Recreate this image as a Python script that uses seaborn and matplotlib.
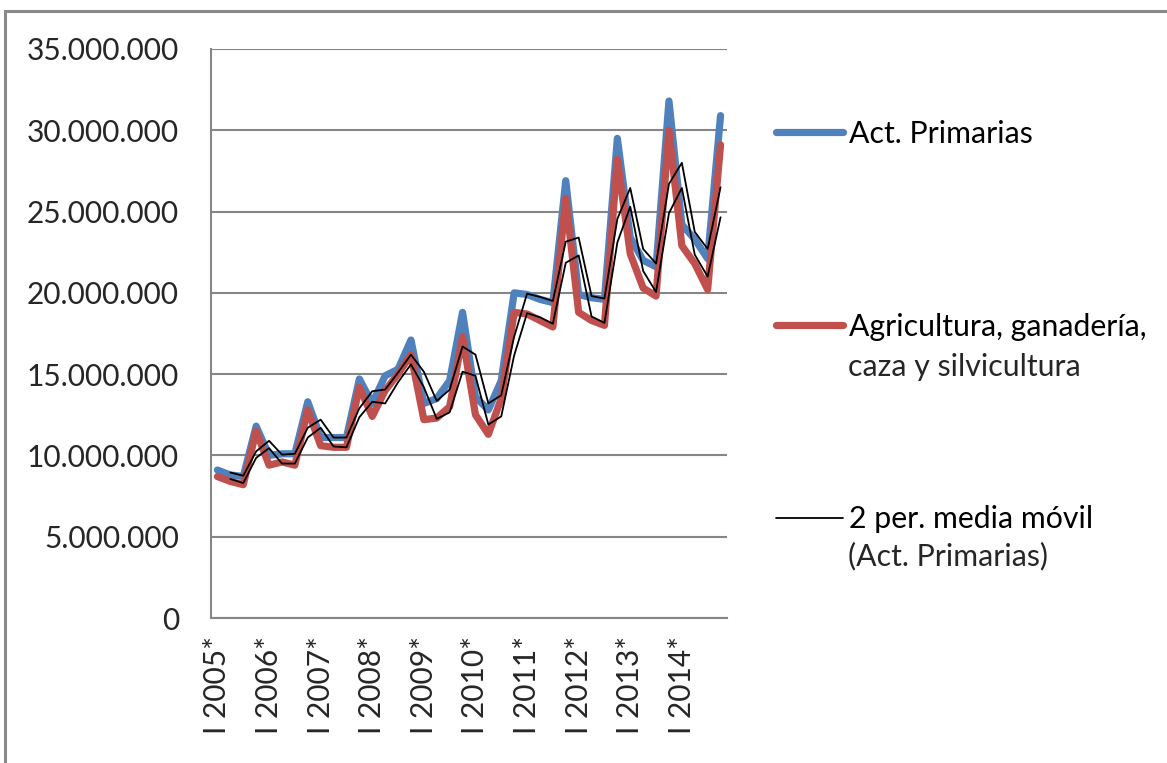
import numpy as np
import pandas as pd
import matplotlib
matplotlib.use("Agg")
import matplotlib.pyplot as plt
import matplotlib.patches as patches
from matplotlib.ticker import FuncFormatter, FixedLocator
import seaborn as sns

# Datos trimestrales 2005-2014 (en millones)
years = [2005, 2006, 2007, 2008, 2009, 2010, 2011, 2012, 2013, 2014]
quarters = ["I", "II", "III", "IV"]
act_primarias = [9.1, 8.8, 8.7, 11.8, 10.0, 10.1, 10.1, 13.3, 11.1, 11.1,
                 11.1, 14.7, 13.2, 14.9, 15.3, 17.1, 13.2, 13.5, 14.6, 18.8,
                 13.6, 12.8, 14.6, 20.0, 19.9, 19.6, 19.4, 26.9, 19.9, 19.7,
                 19.6, 29.5, 23.4, 22.0, 21.6, 31.8, 24.2, 23.3, 22.1, 30.9]
agricultura = [8.7, 8.4, 8.2, 11.5, 9.4, 9.6, 9.4, 12.8, 10.6, 10.5,
               10.5, 14.2, 12.4, 14.0, 15.0, 16.2, 12.2, 12.3, 13.0, 17.3,
               12.5, 11.3, 13.5, 18.8, 18.7, 18.3, 17.9, 25.8, 18.8, 18.3,
               18.0, 28.2, 22.4, 20.3, 19.8, 30.0, 22.9, 21.8, 20.2, 29.1]
year_labels = [f"I {y}*" for y in years]

df = pd.DataFrame({
    "idx": np.arange(len(act_primarias)),
    "Act. Primarias": np.array(act_primarias) * 1e6,
    "Agricultura": np.array(agricultura) * 1e6,
})
# media móvil de 2 periodos (como la línea de tendencia de Excel)
df["ma_act"] = df["Act. Primarias"].rolling(2).mean()
df["ma_agr"] = df["Agricultura"].rolling(2).mean()

sns.set_style("white")
plt.rcParams["font.family"] = ["Lato", "DejaVu Sans"]

fig = plt.figure(figsize=(11.67, 7.63), dpi=100)
ax = fig.add_axes([211 / 1167, 1 - 618 / 763, 516 / 1167, 569 / 763])

blue = "#4F81BD"
red = "#C0504D"
grid_c = "#868686"
fs_tick = 21.5
fs_leg = 21.8

sns.lineplot(data=df, x="idx", y="Act. Primarias", color=blue, lw=5.2, ax=ax,
             label="Act. Primarias", zorder=3)
sns.lineplot(data=df, x="idx", y="Agricultura", color=red, lw=5.2, ax=ax,
             label="Agricultura, ganadería,", zorder=4)
sns.lineplot(data=df, x="idx", y="ma_act", color="black", lw=1.3, ax=ax,
             label="2 per. media móvil", zorder=5)
sns.lineplot(data=df, x="idx", y="ma_agr", color="black", lw=1.3, ax=ax,
             label="_nolegend_", zorder=5)

n = len(act_primarias)
ax.set_xlim(-0.5, n - 0.5)
ax.set_ylim(0, 35e6)
ax.set_yticks(np.arange(0, 35e6 + 1, 5e6))
ax.yaxis.set_major_formatter(FuncFormatter(lambda v, p: f"{int(v):,}".replace(",", ".")))
ax.grid(axis="y", color=grid_c, lw=1.5)
ax.set_axisbelow(True)

# marcas de categoría en los límites, etiquetas cada 4 trimestres
ax.xaxis.set_major_locator(FixedLocator(np.arange(-0.5, n, 1)))
ax.xaxis.set_major_formatter(FuncFormatter(lambda v, p: ""))
ax.xaxis.set_minor_locator(FixedLocator(np.arange(0, n, 4)))
ax.set_xticklabels(year_labels, minor=True, rotation=90)
ax.tick_params(axis="x", which="major", length=9, width=1.2, color=grid_c, direction="out")
ax.tick_params(axis="x", which="minor", length=0, pad=13, labelsize=fs_tick)
ax.tick_params(axis="y", length=9, width=1.2, color=grid_c, direction="out", pad=14, labelsize=fs_tick)
ax.set_xlabel("")
ax.set_ylabel("")

for s in ["top", "right"]:
    ax.spines[s].set_visible(False)
for s in ["left", "bottom"]:
    ax.spines[s].set_color(grid_c)
    ax.spines[s].set_linewidth(1.5)

leg = ax.legend(loc="upper left", bbox_to_anchor=(776 / 1167, 1 - 120 / 763),
                bbox_transform=fig.transFigure, frameon=False, fontsize=fs_leg,
                handlelength=2.2, handletextpad=0.22, labelspacing=5.44,
                borderaxespad=0, borderpad=0)
for t in leg.get_texts():
    t.set_color("black")

# segundas líneas de las etiquetas de la leyenda
fig.text(848 / 1167, 1 - 367 / 763, "caza y silvicultura", fontsize=fs_leg, va="center", ha="left")
fig.text(848 / 1167, 1 - 556 / 763, "(Act. Primarias)", fontsize=fs_leg, va="center", ha="left")

# marco gris del área del gráfico
fig.patches.append(patches.Rectangle((5 / 1167, -0.05), 1.2, 1 - 11 / 763 + 0.05,
                                     transform=fig.transFigure, fill=False,
                                     edgecolor="#8a8a8a", lw=2.2, clip_on=False))

fig.savefig("out.png", dpi=100, facecolor="white")
